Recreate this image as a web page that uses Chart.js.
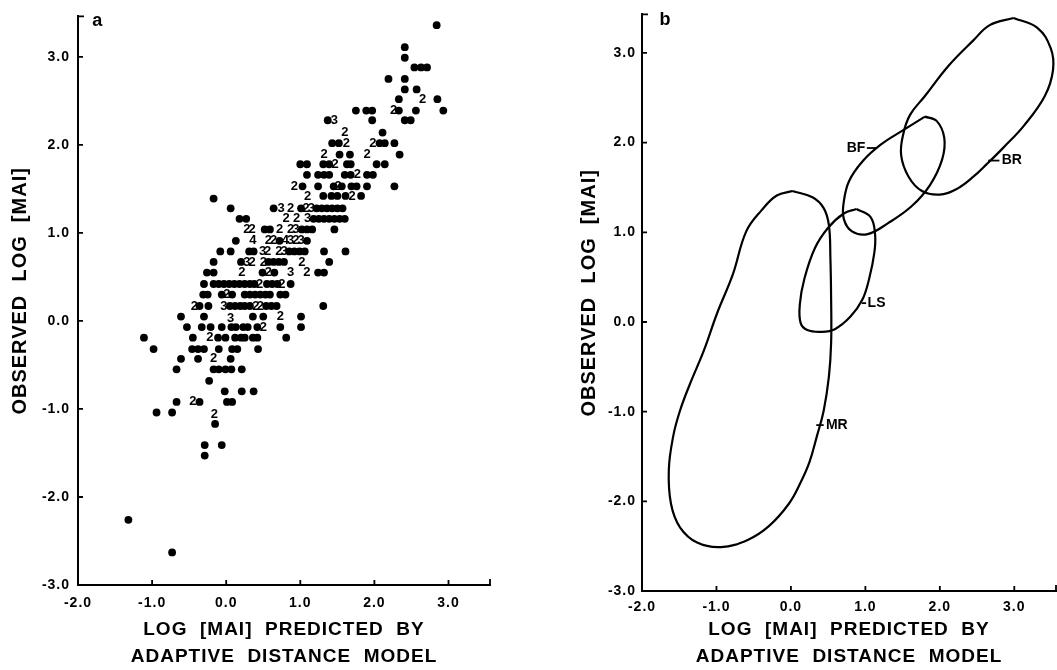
<!DOCTYPE html>
<html>
<head>
<meta charset="utf-8">
<script src="https://cdn.jsdelivr.net/npm/chart.js@4.4.1/dist/chart.umd.min.js"></script>
<style>
  html, body { margin: 0; padding: 0; background: #fff; }
  #wrapA { position: absolute; left: 0; top: 0; }
  #wrapB { position: absolute; left: 530px; top: 0; }
</style>
</head>
<body>
<div id="wrapA"><canvas id="chartA" width="530" height="670"></canvas></div>
<div id="wrapB"><canvas id="chartB" width="527" height="670"></canvas></div>
<script>
// panel a: single points (x, y)
var dots = [
  [2.84,3.36], [2.41,3.11], [2.41,2.99],
  [2.54,2.88], [2.63,2.88], [2.71,2.88],
  [2.19,2.75], [2.41,2.75], [2.41,2.63], [2.57,2.63],
  [2.33,2.52], [2.85,2.52],
  [1.75,2.39], [1.89,2.39], [1.97,2.39], [2.33,2.39], [2.56,2.39], [2.93,2.39],
  [1.37,2.28], [1.97,2.28], [2.41,2.28], [2.49,2.28],
  [2.11,2.14],
  [1.43,2.02], [1.52,2.02], [2.07,2.02], [2.14,2.02], [2.27,2.02],
  [1.53,1.89], [1.67,1.89], [2.34,1.89],
  [1.00,1.78], [1.09,1.78], [1.31,1.78], [1.39,1.78], [1.63,1.78], [1.68,1.78], [2.03,1.78], [2.14,1.78],
  [1.09,1.66], [1.24,1.66], [1.32,1.66], [1.39,1.66], [1.60,1.66], [1.68,1.66], [1.90,1.66], [1.98,1.66],
  [1.03,1.53], [1.24,1.53], [1.45,1.53], [1.56,1.53], [1.69,1.53], [1.76,1.53], [1.90,1.53], [2.27,1.53],
  [-0.17,1.39], [1.31,1.42], [1.42,1.42], [1.50,1.42], [1.61,1.42], [1.82,1.42],
  [0.06,1.28], [0.64,1.28], [1.01,1.28], [1.22,1.28], [1.29,1.28], [1.36,1.28], [1.43,1.28], [1.50,1.28], [1.57,1.28],
  [0.18,1.16], [0.27,1.16], [1.18,1.16], [1.25,1.16], [1.32,1.16], [1.39,1.16], [1.46,1.16], [1.53,1.16], [1.60,1.16],
  [0.52,1.04], [0.59,1.04], [1.02,1.04], [1.09,1.04], [1.16,1.04], [1.46,1.04],
  [0.13,0.91], [0.72,0.91], [1.09,0.91],
  [-0.08,0.79], [0.06,0.79], [0.31,0.79], [0.37,0.79], [0.85,0.79], [0.92,0.79], [0.99,0.79], [1.06,0.79], [1.32,0.79], [1.61,0.79],
  [-0.17,0.67], [0.20,0.67], [0.57,0.67], [0.64,0.67], [0.71,0.67], [0.78,0.67], [1.39,0.67],
  [-0.26,0.55], [-0.17,0.55], [0.49,0.55], [0.65,0.55], [1.24,0.55], [1.32,0.55],
  [-0.30,0.42], [-0.17,0.42], [-0.10,0.42], [-0.03,0.42], [0.04,0.42], [0.11,0.42], [0.18,0.42], [0.25,0.42],
  [0.32,0.42], [0.38,0.42], [0.55,0.42], [0.62,0.42], [0.69,0.42], [0.87,0.42],
  [-0.31,0.30], [-0.25,0.30], [-0.06,0.30], [0.08,0.30], [0.25,0.30], [0.32,0.30], [0.39,0.30], [0.46,0.30],
  [0.53,0.30], [0.59,0.30], [0.73,0.30], [0.80,0.30],
  [-0.36,0.17], [-0.24,0.17], [0.05,0.17], [0.12,0.17], [0.19,0.17], [0.25,0.17], [0.32,0.17],
  [0.54,0.17], [0.61,0.17], [0.68,0.17], [1.31,0.17],
  [-0.61,0.05], [-0.30,0.05], [0.36,0.05], [0.50,0.05], [1.01,0.05],
  [-0.53,-0.07], [-0.33,-0.07], [-0.21,-0.07], [-0.06,-0.07], [0.07,-0.07], [0.13,-0.07], [0.23,-0.07],
  [0.29,-0.07], [0.42,-0.07], [0.73,-0.07], [1.01,-0.07],
  [-1.11,-0.19], [-0.45,-0.19], [-0.11,-0.19], [-0.01,-0.19], [0.12,-0.19], [0.20,-0.19], [0.25,-0.19],
  [0.36,-0.19], [0.42,-0.19], [0.81,-0.19],
  [-0.98,-0.32], [-0.46,-0.32], [-0.38,-0.32], [-0.30,-0.32], [-0.10,-0.32], [0.08,-0.32], [0.15,-0.32], [0.43,-0.32],
  [-0.61,-0.43], [-0.38,-0.43], [0.06,-0.43],
  [-0.67,-0.55], [-0.17,-0.55], [-0.10,-0.55], [-0.01,-0.55], [0.07,-0.55], [0.21,-0.55],
  [-0.23,-0.68],
  [-0.02,-0.80], [0.21,-0.80], [0.37,-0.80],
  [-0.67,-0.92], [-0.36,-0.92], [0.01,-0.92], [0.08,-0.92],
  [-0.94,-1.04], [-0.73,-1.04],
  [-0.15,-1.17],
  [-0.29,-1.41], [-0.06,-1.41], [-0.29,-1.53],
  [-1.32,-2.26], [-0.73,-2.63]
];

// panel a: printed counts where several points fall together (x, y, count)
var counts = [
  [2.65,2.52,'2'], [2.26,2.39,'2'], [1.46,2.28,'3'], [1.60,2.14,'2'], [1.62,2.02,'2'], [1.98,2.02,'2'],
  [1.32,1.89,'2'], [1.90,1.89,'2'], [1.47,1.78,'2'], [1.77,1.66,'2'], [0.92,1.53,'2'], [1.51,1.53,'2'],
  [1.10,1.42,'2'], [1.70,1.42,'2'],
  [0.74,1.28,'3'], [0.87,1.28,'2'], [1.08,1.28,'2'], [1.15,1.28,'3'],
  [0.81,1.16,'2'], [0.95,1.16,'2'], [1.10,1.16,'3'],
  [0.28,1.04,'2'], [0.35,1.04,'2'], [0.72,1.04,'2'], [0.87,1.04,'2'], [0.94,1.04,'3'],
  [0.36,0.91,'4'], [0.57,0.91,'2'], [0.64,0.91,'2'], [0.80,0.91,'4'], [0.87,0.91,'3'], [0.94,0.91,'2'], [1.01,0.91,'3'],
  [0.49,0.79,'3'], [0.56,0.79,'2'], [0.71,0.79,'2'], [0.78,0.79,'3'],
  [0.28,0.67,'3'], [0.35,0.67,'2'], [0.50,0.67,'2'], [1.02,0.67,'2'],
  [0.21,0.55,'2'], [0.57,0.55,'2'], [0.87,0.55,'3'], [1.09,0.55,'2'],
  [0.45,0.42,'2'], [0.75,0.42,'2'],
  [0.01,0.30,'2'],
  [-0.43,0.17,'2'], [-0.03,0.17,'3'], [0.40,0.17,'2'], [0.46,0.17,'2'],
  [0.06,0.03,'3'], [0.73,0.05,'2'],
  [0.50,-0.07,'2'], [-0.22,-0.19,'2'], [-0.17,-0.43,'2'], [-0.45,-0.92,'2'], [-0.16,-1.06,'2']
];

// panel b: outlines of the four groups
var outlineMR = [
  [0.02,1.46], [0.29,1.39], [0.44,1.27], [0.51,1.08], [0.53,0.72], [0.54,0.25], [0.54,-0.23],
  [0.51,-0.61], [0.44,-0.99], [0.35,-1.27], [0.25,-1.56], [0.13,-1.79], [-0.03,-2.03], [-0.30,-2.28],
  [-0.58,-2.43], [-0.94,-2.51], [-1.26,-2.46], [-1.49,-2.29], [-1.61,-2.03], [-1.64,-1.65], [-1.58,-1.27],
  [-1.49,-0.99], [-1.36,-0.70], [-1.17,-0.32], [-0.99,0.10], [-0.78,0.53], [-0.60,1.01], [-0.39,1.25], [-0.19,1.41]
];
var outlineLS = [
  [0.88,1.26], [1.07,1.17], [1.13,0.98], [1.12,0.77], [1.05,0.48], [0.96,0.25], [0.80,0.06], [0.59,-0.08],
  [0.41,-0.11], [0.22,-0.09], [0.13,-0.01], [0.12,0.20], [0.18,0.48], [0.32,0.82], [0.50,1.05], [0.71,1.21]
];
var outlineBF = [
  [1.80,2.29], [1.96,2.24], [2.06,2.05], [2.03,1.81], [1.87,1.53], [1.62,1.29], [1.30,1.10], [1.03,0.98],
  [0.82,1.01], [0.71,1.15], [0.71,1.34], [0.78,1.57], [0.96,1.79], [1.21,1.98], [1.53,2.15]
];
var outlineBR = [
  [2.99,3.39], [3.31,3.28], [3.49,3.05], [3.52,2.81], [3.41,2.52], [3.13,2.19], [2.86,1.95], [2.63,1.76],
  [2.45,1.62], [2.22,1.48], [2.00,1.42], [1.76,1.46], [1.58,1.62], [1.48,1.86], [1.51,2.10], [1.60,2.31],
  [1.80,2.52], [2.12,2.86], [2.45,3.14], [2.67,3.31]
];

var xTitle = ['LOG  [MAI]  PREDICTED  BY', 'ADAPTIVE  DISTANCE  MODEL'];
var yTitle = '   OBSERVED  LOG  [MAI]';

var FONT = '"Liberation Sans", Arial, sans-serif';

function toXY(arr) { return arr.map(function (p) { return {x: p[0], y: p[1]}; }); }
function closed(arr) { var pts = toXY(arr); pts.push(pts[0]); return pts; }

// axis ticks pointing inward, like the original plot
var inwardTicks = {
  id: 'inwardTicks',
  afterDraw: function (chart) {
    var ctx = chart.ctx, a = chart.chartArea, x = chart.scales.x, y = chart.scales.y;
    ctx.save();
    ctx.strokeStyle = '#000';
    ctx.lineWidth = 1.8;
    ctx.beginPath();
    y.ticks.forEach(function (t) {
      var py = y.getPixelForValue(t.value);
      ctx.moveTo(a.left, py); ctx.lineTo(a.left + 5, py);
    });
    ctx.moveTo(a.left, a.top); ctx.lineTo(a.left + 6, a.top);
    x.ticks.forEach(function (t) {
      var px = x.getPixelForValue(t.value);
      ctx.moveTo(px, a.bottom); ctx.lineTo(px, a.bottom - 5);
    });
    ctx.moveTo(a.right, a.bottom); ctx.lineTo(a.right, a.bottom - 6);
    ctx.stroke();
    ctx.restore();
  }
};

// text drawn at data positions: panel letters, counts, group names
var notes = {
  id: 'notes',
  beforeDraw: function (chart) { chart.ctx.letterSpacing = '1px'; },
  afterDatasetsDraw: function (chart) {
    var ctx = chart.ctx, x = chart.scales.x, y = chart.scales.y;
    var list = chart.options.plugins.notes.items || [];
    ctx.save();
    ctx.fillStyle = '#000';
    ctx.strokeStyle = '#000';
    ctx.lineWidth = 1.8;
    ctx.textBaseline = 'middle';
    list.forEach(function (n) {
      var px = x.getPixelForValue(n.x), py = y.getPixelForValue(n.y);
      ctx.font = 'bold ' + n.size + 'px ' + FONT;
      ctx.letterSpacing = n.spacing || '0px';
      ctx.textAlign = n.align || 'center';
      ctx.fillText(n.text, px, py);
      if (n.lead) {
        ctx.beginPath();
        ctx.moveTo(x.getPixelForValue(n.lead[0]), py);
        ctx.lineTo(x.getPixelForValue(n.lead[1]), py);
        ctx.stroke();
      }
    });
    ctx.restore();
  }
};

function baseOptions(p) {
  return {
    responsive: false,
    animation: false,
    events: [],
    layout: { padding: { left: 0, top: p.top, right: p.right, bottom: 0 } },
    plugins: {
      legend: { display: false },
      tooltip: { enabled: false },
      notes: { items: p.notes }
    },
    scales: {
      x: {
        type: 'linear', position: 'bottom',
        min: -2, max: p.xmax,
        afterFit: function (s) { s.height = p.xh; },
        border: { display: true, color: '#000', width: 2 },
        grid: { display: true, drawOnChartArea: false, drawTicks: false },
        ticks: {
          stepSize: 1, includeBounds: false, maxRotation: 0, autoSkip: false,
          padding: p.xpad, color: '#000',
          font: { family: FONT, size: 14, weight: 'bold' },
          callback: function (v) { return v.toFixed(1); }
        },
        title: {
          display: true, text: xTitle, color: '#000',
          font: { family: FONT, size: 19, weight: 'bold', lineHeight: 1.4 },
          padding: { top: 0, bottom: 0 }
        }
      },
      y: {
        type: 'linear', position: 'left',
        min: -3, max: p.ymax,
        afterFit: function (s) { s.width = p.yw; },
        border: { display: true, color: '#000', width: 2 },
        grid: { display: true, drawOnChartArea: false, drawTicks: false },
        ticks: {
          stepSize: 1, includeBounds: false, autoSkip: false,
          padding: p.ypad, color: '#000',
          font: { family: FONT, size: 14, weight: 'bold' },
          callback: function (v) { return v.toFixed(1); }
        },
        title: {
          display: true, text: yTitle, color: '#000',
          font: { family: FONT, size: 20, weight: 'bold', lineHeight: 1.4 },
          padding: { top: p.ytitle, bottom: 0 }
        }
      }
    }
  };
}

// panel a
var optA = baseOptions({
  top: 8, right: 40, xh: 85, yw: 78, xmax: 3.56, ymax: 3.46, xpad: 10, ypad: 8, ytitle: 6,
  notes: [{ x: -1.74, y: 3.41, text: 'a', size: 18 }].concat(counts.map(function (c) {
    return { x: c[0], y: c[1], text: c[2], size: 13 };
  }))
});
new Chart(document.getElementById('chartA'), {
  type: 'scatter',
  data: {
    datasets: [{
      data: toXY(dots),
      pointRadius: 3.9,
      pointBackgroundColor: '#000',
      pointBorderWidth: 0
    }]
  },
  options: optA,
  plugins: [inwardTicks, notes]
});

// panel b
var optB = baseOptions({
  top: 12, right: 1, xh: 79, yw: 112, xmax: 3.56, ymax: 3.43, xpad: 8, ypad: 6, ytitle: 45,
  notes: [
    { x: -1.69, y: 3.37, text: 'b', size: 18 },
    { x: 1.00, y: 1.94, text: 'BF', size: 14, align: 'right', lead: [1.02, 1.16] },
    { x: 2.83, y: 1.80, text: 'BR', size: 14, align: 'left', lead: [2.65, 2.80] },
    { x: 1.03, y: 0.21, text: 'LS', size: 14, align: 'left', lead: [0.95, 1.01] },
    { x: 0.47, y: -1.15, text: 'MR', size: 14, align: 'left', lead: [0.34, 0.44] }
  ]
});
function outline(arr) {
  return {
    data: closed(arr), showLine: true, tension: 0.4, fill: false,
    borderColor: '#000', borderWidth: 2.2, pointRadius: 0
  };
}
new Chart(document.getElementById('chartB'), {
  type: 'scatter',
  data: { datasets: [outline(outlineMR), outline(outlineLS), outline(outlineBF), outline(outlineBR)] },
  options: optB,
  plugins: [inwardTicks, notes]
});
</script>
</body>
</html>
